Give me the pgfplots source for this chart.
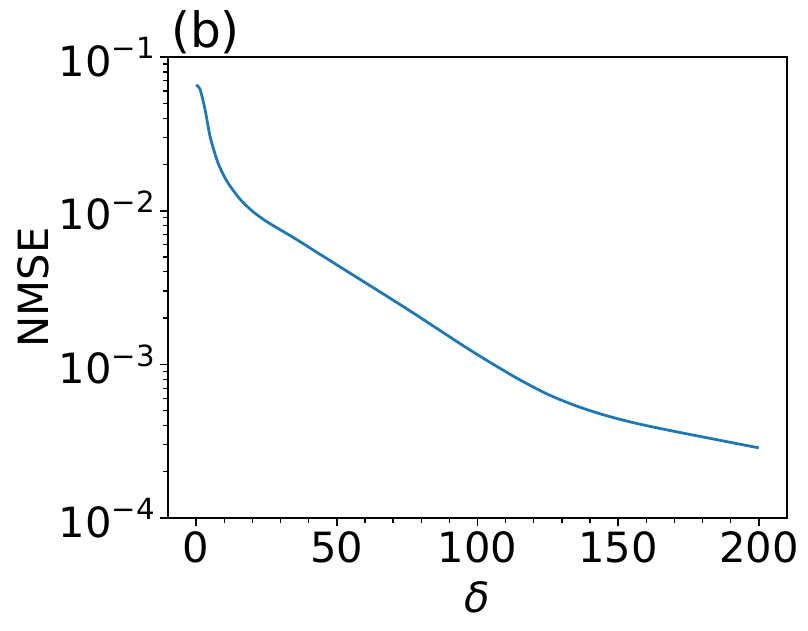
\documentclass[border=0pt]{standalone}
\usepackage{fontspec}
\setmainfont{DejaVu Sans}
\usepackage{pgfplots}
\pgfplotsset{compat=1.18}
\definecolor{tabblue}{HTML}{1F77B4}
\newcommand{\bigfs}{\fontsize{30}{36}\selectfont}
\newcommand{\pw}[1]{10\raisebox{0.42em}{\fontsize{21}{21}\selectfont #1}}
\begin{document}
\begin{tikzpicture}
\begin{axis}[
  scale only axis,
  width=445.68pt, height=331.92pt,
  ymode=log,
  xmin=-10, xmax=210,
  ymin=1e-4, ymax=1e-1,
  xtick={0,50,100,150,200},
  minor x tick num=4,
  ytick={1e-4,1e-3,1e-2,1e-1},
  yticklabels={\pw{−4},\pw{−3},\pw{−2},\pw{−1}},
  xtick pos=left, ytick pos=left,
  tick align=outside,
  major tick length=6pt, minor tick length=3.5pt,
  every major tick/.append style={line width=1.2pt, black},
  every minor tick/.append style={line width=0.9pt, black},
  axis line style={line width=1.6pt},
  /pgf/number format/assume math mode=true,
  ticklabel style={font=\bigfs},
  xlabel={\itshape δ},
  ylabel={NMSE},
  label style={font=\bigfs},
  xlabel style={at={(axis description cs:0.5,-0.172)}, anchor=center},
  ylabel style={at={(axis description cs:-0.218,0.5)}, anchor=center, rotate=0},
  clip=false,
]
\addplot[tabblue, line width=2pt, smooth, tension=0.5] coordinates {
(0,0.0658) (1.4,0.0615) (3.2,0.0452) (5,0.0302) (7.8,0.0204) (11,0.01549)
(15.6,0.01189) (20,0.00993) (25,0.00851) (35,0.00661) (45,0.00507)
(55,0.00389) (65,0.00299) (75,0.00229) (85,0.00174) (95,0.00132)
(105,0.001016) (115,0.000794) (125,0.000638) (135,0.000537) (145,0.000468)
(155,0.000419) (165,0.000382) (180,0.000337) (200,0.000286)
};
\node[anchor=south west, inner sep=0pt, font=\fontsize{35}{40}\selectfont] at (axis description cs:0,1) [xshift=2pt, yshift=2pt] {(b)};
\end{axis}
\path (-120.96pt,-81.36pt) rectangle (460.8pt,372.96pt);
\end{tikzpicture}
\end{document}
